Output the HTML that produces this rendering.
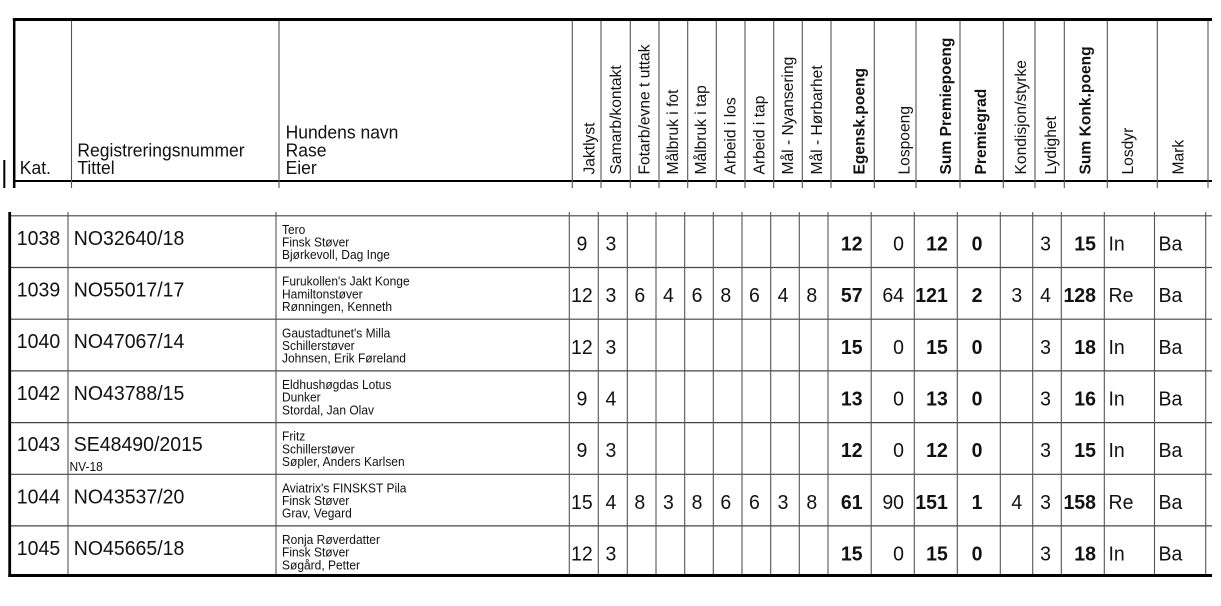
<!DOCTYPE html>
<html><head><meta charset="utf-8">
<style>
html,body{margin:0;padding:0;background:#fff;width:1221px;height:606px;overflow:hidden}
svg{display:block}
text{font-family:"Liberation Sans",Arial,sans-serif;fill:#111}
.h{font-size:17.5px}
.r{font-size:15.6px}
.b{font-weight:bold}
.v{font-size:19.5px}
.n{font-size:12px}
.h,.v,.n{transform-box:fill-box;transform-origin:50% 78%;transform:scaleY(1.05)}
</style></head><body>
<svg width="1221" height="606" viewBox="0 0 1221 606" xmlns="http://www.w3.org/2000/svg">
<rect width="1221" height="606" fill="#fff"/>
<!-- header frame -->
<line x1="4.3" y1="160" x2="4.3" y2="188" stroke="#000" stroke-width="2"/>
<line x1="12.8" y1="19.5" x2="1212" y2="19.5" stroke="#000" stroke-width="3"/>
<line x1="14.2" y1="18" x2="14.2" y2="188" stroke="#000" stroke-width="2.5"/>
<line x1="13" y1="181" x2="1212" y2="181" stroke="#000" stroke-width="2"/>
<g stroke="#555" stroke-width="1.1">
<line x1="71.5" y1="21" x2="71.5" y2="188"/><line x1="279" y1="21" x2="279" y2="188"/>
<line x1="572.3" y1="21" x2="572.3" y2="188"/><line x1="601" y1="21" x2="601" y2="188"/>
<line x1="630.3" y1="21" x2="630.3" y2="188"/><line x1="659" y1="21" x2="659" y2="188"/>
<line x1="687.7" y1="21" x2="687.7" y2="188"/><line x1="716.3" y1="21" x2="716.3" y2="188"/>
<line x1="745" y1="21" x2="745" y2="188"/><line x1="773.7" y1="21" x2="773.7" y2="188"/>
<line x1="802.3" y1="21" x2="802.3" y2="188"/><line x1="831" y1="21" x2="831" y2="188"/>
<line x1="874.3" y1="21" x2="874.3" y2="188"/><line x1="916" y1="21" x2="916" y2="188"/>
<line x1="960" y1="21" x2="960" y2="188"/><line x1="1003.3" y1="21" x2="1003.3" y2="188"/>
<line x1="1035" y1="21" x2="1035" y2="188"/><line x1="1064.3" y1="21" x2="1064.3" y2="188"/>
<line x1="1107.3" y1="21" x2="1107.3" y2="188"/><line x1="1157.3" y1="21" x2="1157.3" y2="188"/>
<line x1="1208" y1="21" x2="1208" y2="188"/>
</g>
<!-- header horizontal text -->
<text class="h" x="19.8" y="174">Kat.</text>
<text class="h" x="77.4" y="156.3">Registreringsnummer</text>
<text class="h" x="77.4" y="174">Tittel</text>
<text class="h" x="285.6" y="138.5">Hundens navn</text>
<text class="h" x="285.6" y="156.3">Rase</text>
<text class="h" x="285.6" y="174">Eier</text>
<!-- header rotated text -->
<text class="r" x="594.4" y="174.5" transform="rotate(-90 594.4 174.5)">Jaktlyst</text>
<text class="r" x="621" y="174.5" transform="rotate(-90 621 174.5)">Samarb/kontakt</text>
<text class="r" x="649.4" y="174.5" transform="rotate(-90 649.4 174.5)">Fotarb/evne t uttak</text>
<text class="r" x="677.8" y="174.5" transform="rotate(-90 677.8 174.5)">Målbruk i fot</text>
<text class="r" x="706" y="174.5" transform="rotate(-90 706 174.5)">Målbruk i tap</text>
<text class="r" x="735.4" y="174.5" transform="rotate(-90 735.4 174.5)">Arbeid i los</text>
<text class="r" x="764.4" y="174.5" transform="rotate(-90 764.4 174.5)">Arbeid i tap</text>
<text class="r" x="792.8" y="174.5" transform="rotate(-90 792.8 174.5)">Mål - Nyansering</text>
<text class="r" x="822" y="174.5" transform="rotate(-90 822 174.5)">Mål - Hørbarhet</text>
<text class="r b" x="864.4" y="174.5" transform="rotate(-90 864.4 174.5)">Egensk.poeng</text>
<text class="r" x="909.4" y="174.5" transform="rotate(-90 909.4 174.5)">Lospoeng</text>
<text class="r b" x="951" y="174.5" transform="rotate(-90 951 174.5)">Sum Premiepoeng</text>
<text class="r b" x="986" y="174.5" transform="rotate(-90 986 174.5)">Premiegrad</text>
<text class="r" x="1026" y="174.5" transform="rotate(-90 1026 174.5)">Kondisjon/styrke</text>
<text class="r" x="1056" y="174.5" transform="rotate(-90 1056 174.5)">Lydighet</text>
<text class="r b" x="1090.4" y="174.5" transform="rotate(-90 1090.4 174.5)">Sum Konk.poeng</text>
<text class="r" x="1132.8" y="174.5" transform="rotate(-90 1132.8 174.5)">Losdyr</text>
<text class="r" x="1183.4" y="174.5" transform="rotate(-90 1183.4 174.5)">Mark</text>

<!-- data grid -->
<g stroke="#444" stroke-width="1.2">
<line x1="9" y1="215.8" x2="1212" y2="215.8"/>
<line x1="9" y1="267.5" x2="1212" y2="267.5"/>
<line x1="9" y1="319.2" x2="1212" y2="319.2"/>
<line x1="9" y1="370.9" x2="1212" y2="370.9"/>
<line x1="9" y1="422.6" x2="1212" y2="422.6"/>
<line x1="9" y1="474.3" x2="1212" y2="474.3"/>
<line x1="9" y1="525.9" x2="1212" y2="525.9"/>
</g>
<g stroke="#555" stroke-width="1.1">
<line x1="68" y1="212" x2="68" y2="575"/><line x1="276" y1="212" x2="276" y2="575"/>
<line x1="569.3" y1="212" x2="569.3" y2="575"/><line x1="598.3" y1="212" x2="598.3" y2="575"/>
<line x1="627.3" y1="212" x2="627.3" y2="575"/><line x1="656" y1="212" x2="656" y2="575"/>
<line x1="684.7" y1="212" x2="684.7" y2="575"/><line x1="713.3" y1="212" x2="713.3" y2="575"/>
<line x1="742" y1="212" x2="742" y2="575"/><line x1="770.7" y1="212" x2="770.7" y2="575"/>
<line x1="799.3" y1="212" x2="799.3" y2="575"/><line x1="828" y1="212" x2="828" y2="575"/>
<line x1="871.2" y1="212" x2="871.2" y2="575"/><line x1="914.3" y1="212" x2="914.3" y2="575"/>
<line x1="957.3" y1="212" x2="957.3" y2="575"/><line x1="1000.3" y1="212" x2="1000.3" y2="575"/>
<line x1="1032.7" y1="212" x2="1032.7" y2="575"/><line x1="1061.3" y1="212" x2="1061.3" y2="575"/>
<line x1="1104.3" y1="212" x2="1104.3" y2="575"/><line x1="1154.5" y1="212" x2="1154.5" y2="575"/>
<line x1="1205.7" y1="212" x2="1205.7" y2="575"/>
</g>
<line x1="9.7" y1="212" x2="9.7" y2="577" stroke="#000" stroke-width="2.8"/>
<line x1="8.3" y1="575.5" x2="1212" y2="575.5" stroke="#000" stroke-width="3"/>

<!-- Kat + reg -->
<text class="v" x="38.5" y="244.8" text-anchor="middle">1038</text>
<text class="v" x="38.5" y="296.5" text-anchor="middle">1039</text>
<text class="v" x="38.5" y="348.2" text-anchor="middle">1040</text>
<text class="v" x="38.5" y="399.9" text-anchor="middle">1042</text>
<text class="v" x="38.5" y="451.1" text-anchor="middle">1043</text>
<text class="v" x="38.5" y="503.3" text-anchor="middle">1044</text>
<text class="v" x="38.5" y="554.9" text-anchor="middle">1045</text>
<text class="v" x="73.8" y="244.8">NO32640/18</text>
<text class="v" x="73.8" y="296.5">NO55017/17</text>
<text class="v" x="73.8" y="348.2">NO47067/14</text>
<text class="v" x="73.8" y="399.9">NO43788/15</text>
<text class="v" x="73.8" y="451.1">SE48490/2015</text>
<text class="v" x="73.8" y="503.3">NO43537/20</text>
<text class="v" x="73.8" y="554.9">NO45665/18</text>
<text class="n" x="69.5" y="471">NV-18</text>

<!-- names -->
<text class="n" x="282" y="233.9">Tero</text><text class="n" x="282" y="246.6">Finsk Støver</text><text class="n" x="282" y="259.2">Bjørkevoll, Dag Inge</text>
<text class="n" x="282" y="285.6">Furukollen's Jakt Konge</text><text class="n" x="282" y="298.3">Hamiltonstøver</text><text class="n" x="282" y="310.9">Rønningen, Kenneth</text>
<text class="n" x="282" y="337.3">Gaustadtunet's Milla</text><text class="n" x="282" y="350">Schillerstøver</text><text class="n" x="282" y="362.6">Johnsen, Erik Føreland</text>
<text class="n" x="282" y="389">Eldhushøgdas Lotus</text><text class="n" x="282" y="401.7">Dunker</text><text class="n" x="282" y="414.3">Stordal, Jan Olav</text>
<text class="n" x="282" y="440.5">Fritz</text><text class="n" x="282" y="453.3">Schillerstøver</text><text class="n" x="282" y="465.9">Søpler, Anders Karlsen</text>
<text class="n" x="282" y="492.4">Aviatrix's FINSKST Pila</text><text class="n" x="282" y="505.1">Finsk Støver</text><text class="n" x="282" y="517.7">Grav, Vegard</text>
<text class="n" x="282" y="544">Ronja Røverdatter</text><text class="n" x="282" y="556.7">Finsk Støver</text><text class="n" x="282" y="569.3">Søgård, Petter</text>

<!-- narrow score columns -->
<text class="v" x="581.9" y="250.4" text-anchor="middle">9</text>
<text class="v" x="610.9" y="250.4" text-anchor="middle">3</text>
<text class="v" x="581.9" y="302.1" text-anchor="middle">12</text>
<text class="v" x="610.9" y="302.1" text-anchor="middle">3</text>
<text class="v" x="639.75" y="302.1" text-anchor="middle">6</text>
<text class="v" x="668.45" y="302.1" text-anchor="middle">4</text>
<text class="v" x="697.1" y="302.1" text-anchor="middle">6</text>
<text class="v" x="725.75" y="302.1" text-anchor="middle">8</text>
<text class="v" x="754.45" y="302.1" text-anchor="middle">6</text>
<text class="v" x="783.1" y="302.1" text-anchor="middle">4</text>
<text class="v" x="811.75" y="302.1" text-anchor="middle">8</text>
<text class="v" x="581.9" y="353.8" text-anchor="middle">12</text>
<text class="v" x="610.9" y="353.8" text-anchor="middle">3</text>
<text class="v" x="581.9" y="405.5" text-anchor="middle">9</text>
<text class="v" x="610.9" y="405.5" text-anchor="middle">4</text>
<text class="v" x="581.9" y="457.2" text-anchor="middle">9</text>
<text class="v" x="610.9" y="457.2" text-anchor="middle">3</text>
<text class="v" x="581.9" y="508.9" text-anchor="middle">15</text>
<text class="v" x="610.9" y="508.9" text-anchor="middle">4</text>
<text class="v" x="639.75" y="508.9" text-anchor="middle">8</text>
<text class="v" x="668.45" y="508.9" text-anchor="middle">3</text>
<text class="v" x="697.1" y="508.9" text-anchor="middle">8</text>
<text class="v" x="725.75" y="508.9" text-anchor="middle">6</text>
<text class="v" x="754.45" y="508.9" text-anchor="middle">6</text>
<text class="v" x="783.1" y="508.9" text-anchor="middle">3</text>
<text class="v" x="811.75" y="508.9" text-anchor="middle">8</text>
<text class="v" x="581.9" y="560.5" text-anchor="middle">12</text>
<text class="v" x="610.9" y="560.5" text-anchor="middle">3</text>

<!-- right columns -->
<text class="v b" x="862.6" y="250.4" text-anchor="end">12</text>
<text class="v" x="904" y="250.4" text-anchor="end">0</text>
<text class="v b" x="947.8" y="250.4" text-anchor="end">12</text>
<text class="v b" x="982.5" y="250.4" text-anchor="end">0</text>
<text class="v" x="1051" y="250.4" text-anchor="end">3</text>
<text class="v b" x="1096" y="250.4" text-anchor="end">15</text>
<text class="v" x="1108.5" y="250.4">In</text>
<text class="v" x="1158.5" y="250.4">Ba</text>

<text class="v b" x="862.6" y="302.1" text-anchor="end">57</text>
<text class="v" x="904" y="302.1" text-anchor="end">64</text>
<text class="v b" x="947.8" y="302.1" text-anchor="end">121</text>
<text class="v b" x="982.5" y="302.1" text-anchor="end">2</text>
<text class="v" x="1022.2" y="302.1" text-anchor="end">3</text>
<text class="v" x="1051" y="302.1" text-anchor="end">4</text>
<text class="v b" x="1096" y="302.1" text-anchor="end">128</text>
<text class="v" x="1108.5" y="302.1">Re</text>
<text class="v" x="1158.5" y="302.1">Ba</text>

<text class="v b" x="862.6" y="353.8" text-anchor="end">15</text>
<text class="v" x="904" y="353.8" text-anchor="end">0</text>
<text class="v b" x="947.8" y="353.8" text-anchor="end">15</text>
<text class="v b" x="982.5" y="353.8" text-anchor="end">0</text>
<text class="v" x="1051" y="353.8" text-anchor="end">3</text>
<text class="v b" x="1096" y="353.8" text-anchor="end">18</text>
<text class="v" x="1108.5" y="353.8">In</text>
<text class="v" x="1158.5" y="353.8">Ba</text>

<text class="v b" x="862.6" y="405.5" text-anchor="end">13</text>
<text class="v" x="904" y="405.5" text-anchor="end">0</text>
<text class="v b" x="947.8" y="405.5" text-anchor="end">13</text>
<text class="v b" x="982.5" y="405.5" text-anchor="end">0</text>
<text class="v" x="1051" y="405.5" text-anchor="end">3</text>
<text class="v b" x="1096" y="405.5" text-anchor="end">16</text>
<text class="v" x="1108.5" y="405.5">In</text>
<text class="v" x="1158.5" y="405.5">Ba</text>

<text class="v b" x="862.6" y="457.2" text-anchor="end">12</text>
<text class="v" x="904" y="457.2" text-anchor="end">0</text>
<text class="v b" x="947.8" y="457.2" text-anchor="end">12</text>
<text class="v b" x="982.5" y="457.2" text-anchor="end">0</text>
<text class="v" x="1051" y="457.2" text-anchor="end">3</text>
<text class="v b" x="1096" y="457.2" text-anchor="end">15</text>
<text class="v" x="1108.5" y="457.2">In</text>
<text class="v" x="1158.5" y="457.2">Ba</text>

<text class="v b" x="862.6" y="508.9" text-anchor="end">61</text>
<text class="v" x="904" y="508.9" text-anchor="end">90</text>
<text class="v b" x="947.8" y="508.9" text-anchor="end">151</text>
<text class="v b" x="982.5" y="508.9" text-anchor="end">1</text>
<text class="v" x="1022.2" y="508.9" text-anchor="end">4</text>
<text class="v" x="1051" y="508.9" text-anchor="end">3</text>
<text class="v b" x="1096" y="508.9" text-anchor="end">158</text>
<text class="v" x="1108.5" y="508.9">Re</text>
<text class="v" x="1158.5" y="508.9">Ba</text>

<text class="v b" x="862.6" y="560.5" text-anchor="end">15</text>
<text class="v" x="904" y="560.5" text-anchor="end">0</text>
<text class="v b" x="947.8" y="560.5" text-anchor="end">15</text>
<text class="v b" x="982.5" y="560.5" text-anchor="end">0</text>
<text class="v" x="1051" y="560.5" text-anchor="end">3</text>
<text class="v b" x="1096" y="560.5" text-anchor="end">18</text>
<text class="v" x="1108.5" y="560.5">In</text>
<text class="v" x="1158.5" y="560.5">Ba</text>
</svg>
</body></html>
